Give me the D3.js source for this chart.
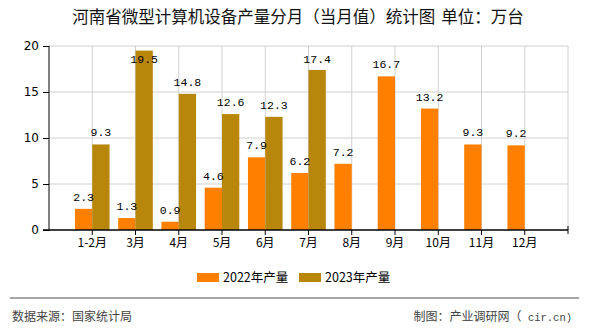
<!DOCTYPE html>
<html><head><meta charset="utf-8">
<script src="https://cdn.jsdelivr.net/npm/d3@7"></script>
<style>body{margin:0;background:#fff;} svg{display:block;}</style>
</head><body>
<svg id="c" width="590" height="330"></svg>
<script>
const categories = ["1-2月","3月","4月","5月","6月","7月","8月","9月","10月","11月","12月"];
const values2022 = [2.3,1.3,0.9,4.6,7.9,6.2,7.2,16.7,13.2,9.3,9.2];
const values2023 = [9.3,19.5,14.8,12.6,12.3,17.4,null,null,null,null,null];
const seriesNames = ["2022年产量","2023年产量"];
const yTicks = [0,5,10,15,20];
const colors = ["#FF8000","#B8860B"];

const svg = d3.select("#c");
const L = 49, R = 568, T = 46, B = 230;
const x = d3.scaleLinear().domain([0, categories.length + 1]).range([L, R]);
const y = d3.scaleLinear().domain([0, 20]).range([B, T]);
const bw = (x(1) - x(0)) * 0.4;

// title
const title = svg.append("text").attr("x", 298).attr("y", 23).attr("text-anchor","middle")
  .attr("font-family","'Noto Sans CJK SC',sans-serif").attr("font-size",16.5).attr("fill","#111");
title.append("tspan").text("河南省微型计算机设备产量分月（当月值）统计图");
title.append("tspan").attr("dx",6).text("单位：万台");

// grid
const g = svg.append("g");
yTicks.filter(t=>t>0).forEach(t=>{
  g.append("line").attr("x1",L).attr("x2",R).attr("y1",y(t)).attr("y2",y(t)).attr("stroke","#d0d0d0");
});
d3.range(1, categories.length + 2).forEach(i=>{
  g.append("line").attr("x1",x(i)).attr("x2",x(i)).attr("y1",T).attr("y2",B).attr("stroke","#d0d0d0");
});

// bars
const series = [values2022, values2023];
series.forEach((vals, s)=>{
  vals.forEach((v,i)=>{
    if (v==null) return;
    const cx = x(i+1);
    const x0 = s===0 ? cx - bw : cx;
    svg.append("rect").attr("x",x0).attr("y",y(v)).attr("width",bw).attr("height",y(0)-y(v)).attr("fill",colors[s]);
  });
});
// labels
series.forEach((vals, s)=>{
  vals.forEach((v,i)=>{
    if (v==null) return;
    const cx = x(i+1) + (s===0 ? -bw/2 : bw/2);
    svg.append("text").attr("x",cx).attr("y",Math.max(y(v)-12, 59)).attr("dy","0.35em")
      .attr("text-anchor","middle").attr("font-family","'Liberation Mono',monospace").attr("font-size",11.5)
      .attr("fill","#000").text(v.toFixed(1));
  });
});

// y axis
const ya = svg.append("g").attr("transform",`translate(${L},0)`)
  .call(d3.axisLeft(y).tickValues(yTicks).tickSize(6).tickPadding(4).tickFormat(d3.format("d")));
ya.select(".domain").attr("stroke","#000").attr("d",`M0,${T}V${B}`);
ya.selectAll("text").attr("font-family","'DejaVu Sans',sans-serif").attr("font-size",12).attr("fill","#000");
ya.selectAll("line").attr("stroke","#000");

// x axis
const xa = svg.append("g").attr("transform",`translate(0,${B})`);
xa.append("line").attr("x1",L-6).attr("x2",R).attr("y1",0).attr("y2",0).attr("stroke","#000").attr("stroke-width",1.5);
d3.range(1, categories.length + 1).forEach(i=>{
  xa.append("line").attr("x1",x(i)).attr("x2",x(i)).attr("y1",0).attr("y2",5).attr("stroke","#000");
});
xa.append("line").attr("x1",R).attr("x2",R).attr("y1",-4).attr("y2",4).attr("stroke","#000");
categories.forEach((c,i)=>{
  xa.append("text").attr("x",x(i+1)).attr("y",13).attr("dy","0.35em").attr("text-anchor","middle")
    .attr("font-family","'Noto Sans CJK SC',sans-serif").attr("font-size",12).attr("fill","#000").text(c);
});

// legend
const legX = [197, 299];
seriesNames.forEach((n,s)=>{
  svg.append("rect").attr("x",legX[s]).attr("y",273).attr("width",22).attr("height",9).attr("fill",colors[s]);
  svg.append("text").attr("x",legX[s]+26).attr("y",277.5).attr("dy","0.35em")
    .attr("font-family","'Noto Sans CJK SC',sans-serif").attr("font-size",12.5).attr("fill","#000").text(n);
});

// footer
svg.append("line").attr("x1",10).attr("x2",579).attr("y1",298).attr("y2",298).attr("stroke","#888").attr("stroke-width",1.5);
svg.append("text").attr("x",12).attr("y",317).attr("dy","0.35em")
  .attr("font-family","'Noto Sans CJK SC',sans-serif").attr("font-size",12).attr("fill","#444").text("数据来源：国家统计局");
const ft = svg.append("text").attr("x",572).attr("y",317).attr("dy","0.35em").attr("text-anchor","end")
  .attr("font-family","'Noto Sans CJK SC',sans-serif").attr("font-size",12).attr("fill","#444");
ft.append("tspan").text("制图：产业调研网（");
ft.append("tspan").attr("font-family","'Liberation Mono',monospace").attr("font-size",10.5).text(" cir.cn)");
</script>
</body></html>
